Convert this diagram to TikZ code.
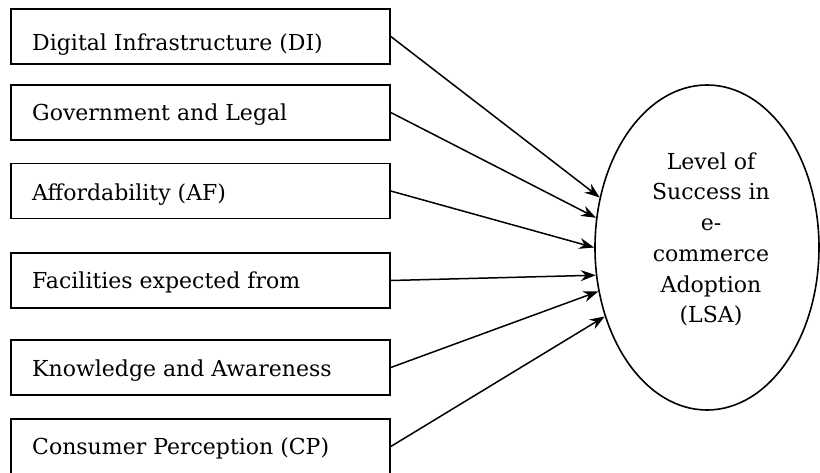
\documentclass[tikz,border=0pt]{standalone}
\usepackage{fontspec}
\setmainfont{DejaVu Serif}
\usetikzlibrary{shapes.geometric,arrows.meta}
\begin{document}
\begin{tikzpicture}[x=1pt,y=-1pt,
  factorbox/.style={draw, line width=1.6pt, minimum width=379pt, minimum height=55pt, inner sep=0pt},
  factortext/.style={anchor=base west, inner sep=0pt, font=\fontsize{22}{26}\selectfont},
  arr/.style={line width=1.5pt, -{Stealth[length=15pt,width=11pt]}}]
\useasboundingbox (0,0) rectangle (820,472);
\node[factorbox] (b1) at (200.5,36.5) {};
\node[factorbox] (b2) at (200.5,112.5) {};
\node[factorbox] (b3) at (200.5,191) {};
\node[factorbox] (b4) at (200.5,280.5) {};
\node[factorbox] (b5) at (200.5,367.5) {};
\node[factorbox] (b6) at (200.5,446.5) {};
\node[factortext] (t1) at (32,50) {Digital Infrastructure (DI)};
\node[factortext] (t2) at (32,120.7) {Government and Legal};
\node[factortext] (t3) at (32,200) {Affordability (AF)};
\node[factortext] (t4) at (32,288.7) {Facilities expected from};
\node[factortext] (t5) at (32,376) {Knowledge and Awareness};
\node[factortext] (t6) at (32,454.7) {Consumer Perception (CP)};
\node[draw, ellipse, line width=1.6pt, minimum width=224pt, minimum height=325pt, inner sep=0pt] (lsa) at (707,247.5) {};
\node[align=center, font=\fontsize{22}{30.7}\selectfont, inner sep=0pt, anchor=base] (lsatext) at (711,322.7) {Level of\\Success in\\e-\\commerce\\Adoption\\(LSA)};
\draw[arr] (b1.east) -- (lsa.155.1);
\draw[arr] (b2.east) -- (lsa.165.2);
\draw[arr] (b3.east) -- (lsa.180);
\draw[arr] (b4.east) -- (lsa.194);
\draw[arr] (b5.east) -- (lsa.202.2);
\draw[arr] (b6.east) -- (lsa.214.6);
\end{tikzpicture}
\end{document}
